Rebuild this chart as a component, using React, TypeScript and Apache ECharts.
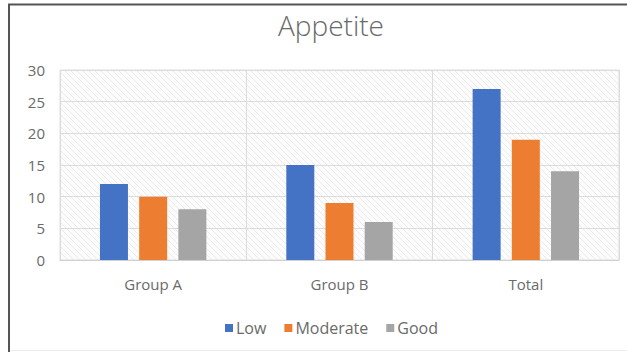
import React, { useEffect, useRef } from "react";
import * as echarts from "echarts";

const categories = ["Group A", "Group B", "Total"];
const lowValues = [12, 15, 27];
const moderateValues = [10, 9, 19];
const goodValues = [8, 6, 14];
const seriesNames = ["Low", "Moderate", "Good"];
const seriesColors = ["#4472C4", "#ED7D31", "#A5A5A5"];
const yTicks = { min: 0, max: 30, interval: 5 };

function makeHatch(): HTMLCanvasElement {
  const c = document.createElement("canvas");
  c.width = 6;
  c.height = 6;
  const ctx = c.getContext("2d")!;
  ctx.fillStyle = "#fcfcfc";
  ctx.fillRect(0, 0, 6, 6);
  ctx.strokeStyle = "#ebebeb";
  ctx.lineWidth = 1;
  ctx.beginPath();
  ctx.moveTo(-1, -1);
  ctx.lineTo(7, 7);
  ctx.moveTo(-4, 2);
  ctx.lineTo(4, 10);
  ctx.moveTo(2, -4);
  ctx.lineTo(10, 4);
  ctx.stroke();
  return c;
}

export default function App() {
  const ref = useRef<HTMLDivElement>(null);
  useEffect(() => {
    if (!ref.current) return;
    const chart = echarts.init(ref.current, undefined, { renderer: "svg" });
    const font = "'Open Sans', 'Noto Sans', sans-serif";
    const data = [lowValues, moderateValues, goodValues];
    chart.setOption({
      animation: false,
      backgroundColor: "#ffffff",
      textStyle: { fontFamily: font },
      title: {
        text: "Appetite",
        left: 326,
        top: 6,
        textAlign: "center",
        textStyle: { fontSize: 28, fontWeight: 300, color: "#6a6a6a", fontFamily: font },
      },
      legend: {
        left: 220,
        top: 315,
        itemWidth: 8,
        itemHeight: 8,
        itemGap: 18,
        icon: "rect",
        textStyle: { fontSize: 16, color: "#6a6a6a", padding: [0, 0, 0, -2] },
        data: seriesNames,
      },
      grid: {
        left: 60,
        right: 8,
        top: 70,
        bottom: 92,
        show: true,
        borderColor: "#dedede",
        borderWidth: 1,
        backgroundColor: { image: makeHatch(), repeat: "repeat" },
      },
      xAxis: {
        type: "category",
        data: categories,
        axisLine: { show: true, lineStyle: { color: "#d0d0d0" } },
        axisTick: { show: false },
        splitLine: { show: true, lineStyle: { color: "#dcdcdc" } },
        axisLabel: { color: "#6a6a6a", fontSize: 15, margin: 16 },
      },
      yAxis: {
        type: "value",
        min: yTicks.min,
        max: yTicks.max,
        interval: yTicks.interval,
        axisLine: { show: false },
        axisTick: { show: false },
        splitLine: { show: true, lineStyle: { color: "#dcdcdc" } },
        axisLabel: { color: "#6a6a6a", fontSize: 15, margin: 15 },
      },
      series: seriesNames.map((name, i) => ({
        name,
        type: "bar",
        data: data[i],
        barWidth: 28,
        barGap: "40%",
        itemStyle: { color: seriesColors[i] },
      })),
      graphic: [
        {
          type: "line",
          shape: { x1: 8, y1: 4.5, x2: 627, y2: 4.5 },
          style: { stroke: "#555555", lineWidth: 2 },
        },
        {
          type: "line",
          shape: { x1: 9, y1: 4, x2: 9, y2: 352 },
          style: { stroke: "#555555", lineWidth: 2 },
        },
        {
          type: "line",
          shape: { x1: 10, y1: 350.5, x2: 627, y2: 350.5 },
          style: { stroke: "#ececec", lineWidth: 1 },
        },
      ],
    });
    return () => chart.dispose();
  }, []);
  return (
    <div
      ref={ref}
      style={{ position: "fixed", left: 0, top: 0, width: 627, height: 352 }}
    />
  );
}
